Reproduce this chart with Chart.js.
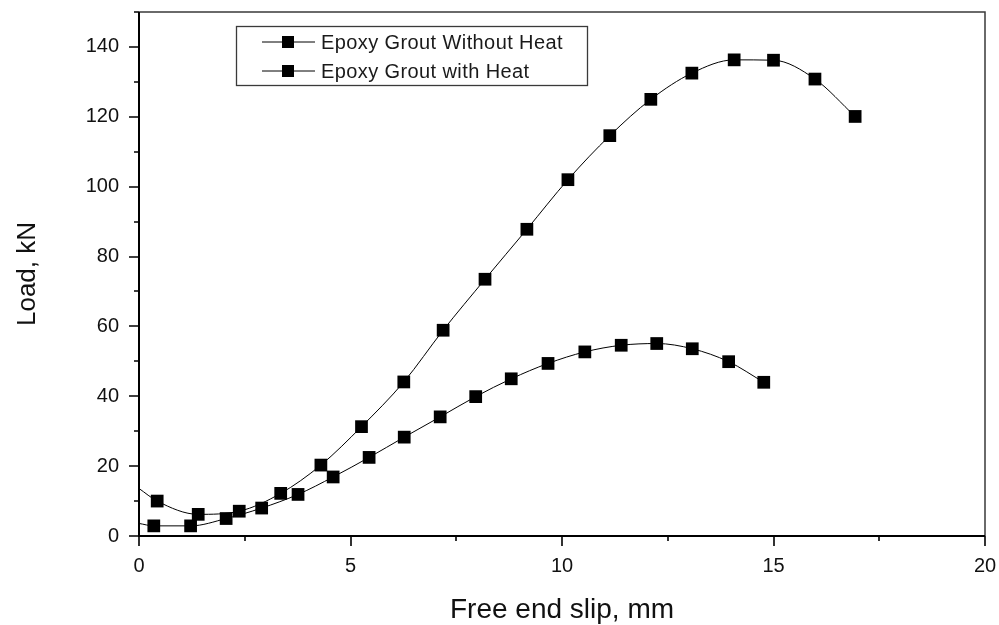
<!DOCTYPE html>
<html>
<head>
<meta charset="utf-8">
<script src="https://cdn.jsdelivr.net/npm/chart.js@4.4.1/dist/chart.umd.min.js"></script>
<style>
  html, body { margin: 0; padding: 0; background: #fff; }
  #wrap { width: 999px; height: 625px; }
</style>
</head>
<body>
<div id="wrap"><canvas id="myChart"></canvas></div>
<script>
// Adatok (x: csúszás mm, y: terhelés kN)
const seriesNames = ['Epoxy Grout Without Heat', 'Epoxy Grout with Heat'];

const withoutHeatX = [0, 0.43, 1.40, 2.37, 3.35, 4.30, 5.26, 6.26, 7.19, 8.18, 9.17, 10.14, 11.13, 12.10, 13.07, 14.07, 15.00, 15.98, 16.93];
const withoutHeatY = [13.6, 10.0, 6.2, 7.1, 12.2, 20.3, 31.3, 44.1, 58.9, 73.5, 87.8, 102.0, 114.6, 125.0, 132.5, 136.3, 136.2, 130.8, 120.1];

const withHeatX = [0, 0.35, 1.22, 2.06, 2.90, 3.76, 4.59, 5.44, 6.27, 7.12, 7.96, 8.80, 9.67, 10.54, 11.40, 12.24, 13.08, 13.94, 14.77];
const withHeatY = [3.6, 2.9, 2.9, 5.0, 8.0, 11.9, 16.9, 22.5, 28.3, 34.1, 39.9, 45.0, 49.4, 52.7, 54.6, 55.1, 53.6, 49.9, 44.0];

// Tengely beosztások
const xMajorTicks = [0, 5, 10, 15, 20];
const xMinorTicks = [2.5, 7.5, 12.5, 17.5];
const yMajorTicks = [0, 20, 40, 60, 80, 100, 120, 140];
const yMinorTicks = [10, 30, 50, 70, 90, 110, 130, 150];

function toPoints(xs, ys) {
    return xs.map((x, i) => ({ x: x, y: ys[i] }));
}

// Az első pont csak a vonal kezdete, nincs jelölő
function radii(xs) {
    return xs.map((x, i) => (i === 0 ? 0 : 9));
}

// Keret + kis/nagy osztásjelek + jelmagyarázat
const axisPlugin = {
    id: 'axisFrame',
    afterDatasetsDraw(chart) {
        const ctx = chart.ctx;
        const a = chart.chartArea;
        const xs = chart.scales.x;
        const ys = chart.scales.y;
        ctx.save();
        ctx.strokeStyle = '#3a3a3a';
        ctx.lineWidth = 1.5;
        ctx.beginPath();
        ctx.moveTo(a.left, a.top);
        ctx.lineTo(a.right, a.top);
        ctx.lineTo(a.right, a.bottom);
        ctx.stroke();

        ctx.strokeStyle = '#000';
        ctx.lineWidth = 2;
        ctx.beginPath();
        ctx.moveTo(a.left, a.top);
        ctx.lineTo(a.left, a.bottom);
        ctx.lineTo(a.right, a.bottom);
        ctx.stroke();

        ctx.lineWidth = 1.6;
        ctx.beginPath();
        xMajorTicks.forEach(v => {
            const px = Math.round(xs.getPixelForValue(v));
            ctx.moveTo(px, a.bottom);
            ctx.lineTo(px, a.bottom + 10);
        });
        xMinorTicks.forEach(v => {
            const px = Math.round(xs.getPixelForValue(v));
            ctx.moveTo(px, a.bottom);
            ctx.lineTo(px, a.bottom + 5);
        });
        yMajorTicks.forEach(v => {
            const py = Math.round(ys.getPixelForValue(v));
            ctx.moveTo(a.left, py);
            ctx.lineTo(a.left - 10, py);
        });
        yMinorTicks.forEach(v => {
            const py = Math.round(ys.getPixelForValue(v));
            ctx.moveTo(a.left, py);
            ctx.lineTo(a.left - 5, py);
        });
        ctx.stroke();

        // Jelmagyarázat doboz
        const bx = 236.5, by = 26.5, bw = 351, bh = 59;
        ctx.strokeStyle = '#3a3a3a';
        ctx.lineWidth = 1.3;
        ctx.strokeRect(bx, by, bw, bh);
        const rows = [42, 71];
        ctx.font = '20px "Liberation Sans", Arial, sans-serif';
        ctx.letterSpacing = '0.4px';
        ctx.textBaseline = 'middle';
        ctx.textAlign = 'left';
        chart.data.datasets.forEach((ds, i) => {
            const ry = rows[i];
            ctx.strokeStyle = '#000';
            ctx.lineWidth = 1;
            ctx.beginPath();
            ctx.moveTo(262, ry);
            ctx.lineTo(315, ry);
            ctx.stroke();
            ctx.fillStyle = '#000';
            ctx.fillRect(282, ry - 6, 12, 12);
            ctx.fillStyle = '#1a1a1a';
            ctx.fillText(ds.label, 321, ry + 1);
        });
        ctx.restore();
    }
};

const ctx = document.getElementById('myChart').getContext('2d');
const chart = new Chart(ctx, {
    type: 'scatter',
    data: {
        datasets: [
            {
                label: seriesNames[0],
                data: toPoints(withoutHeatX, withoutHeatY),
                showLine: true,
                borderColor: '#000',
                borderWidth: 1,
                backgroundColor: '#000',
                pointStyle: 'rect',
                pointRadius: radii(withoutHeatX),
                pointBorderWidth: 0,
                cubicInterpolationMode: 'monotone'
            },
            {
                label: seriesNames[1],
                data: toPoints(withHeatX, withHeatY),
                showLine: true,
                borderColor: '#000',
                borderWidth: 1,
                backgroundColor: '#000',
                pointStyle: 'rect',
                pointRadius: radii(withHeatX),
                pointBorderWidth: 0,
                cubicInterpolationMode: 'monotone'
            }
        ]
    },
    options: {
        responsive: true,
        maintainAspectRatio: false,
        animation: false,
        layout: { padding: { top: 12, right: 14, left: 0, bottom: 0 } },
        plugins: {
            legend: { display: false },
            tooltip: { enabled: false }
        },
        scales: {
            x: {
                type: 'linear',
                min: 0,
                max: 20,
                grid: { display: false, drawTicks: false },
                border: { display: false },
                ticks: {
                    stepSize: 5,
                    padding: 18,
                    color: '#111',
                    font: { family: '"Liberation Sans", Arial, sans-serif', size: 20 }
                },
                title: {
                    display: true,
                    text: 'Free end slip, mm',
                    color: '#111',
                    padding: { top: 0, bottom: 1 },
                    font: { family: '"Liberation Sans", Arial, sans-serif', size: 28, lineHeight: 1 }
                },
                afterFit(scale) {
                    scale.height = 89;
                    scale.paddingLeft = 0;
                    scale.paddingRight = 0;
                }
            },
            y: {
                type: 'linear',
                min: 0,
                max: 150,
                grid: { display: false, drawTicks: false },
                border: { display: false },
                ticks: {
                    stepSize: 20,
                    includeBounds: false,
                    padding: 20,
                    color: '#111',
                    font: { family: '"Liberation Sans", Arial, sans-serif', size: 20 }
                },
                title: {
                    display: true,
                    text: 'Load, kN',
                    color: '#111',
                    padding: { top: 15, bottom: 0 },
                    font: { family: '"Liberation Sans", Arial, sans-serif', size: 26, lineHeight: 1 }
                },
                afterFit(scale) {
                    scale.width = 139;
                    scale.paddingTop = 0;
                    scale.paddingBottom = 0;
                }
            }
        }
    },
    plugins: [axisPlugin]
});
</script>
</body>
</html>
